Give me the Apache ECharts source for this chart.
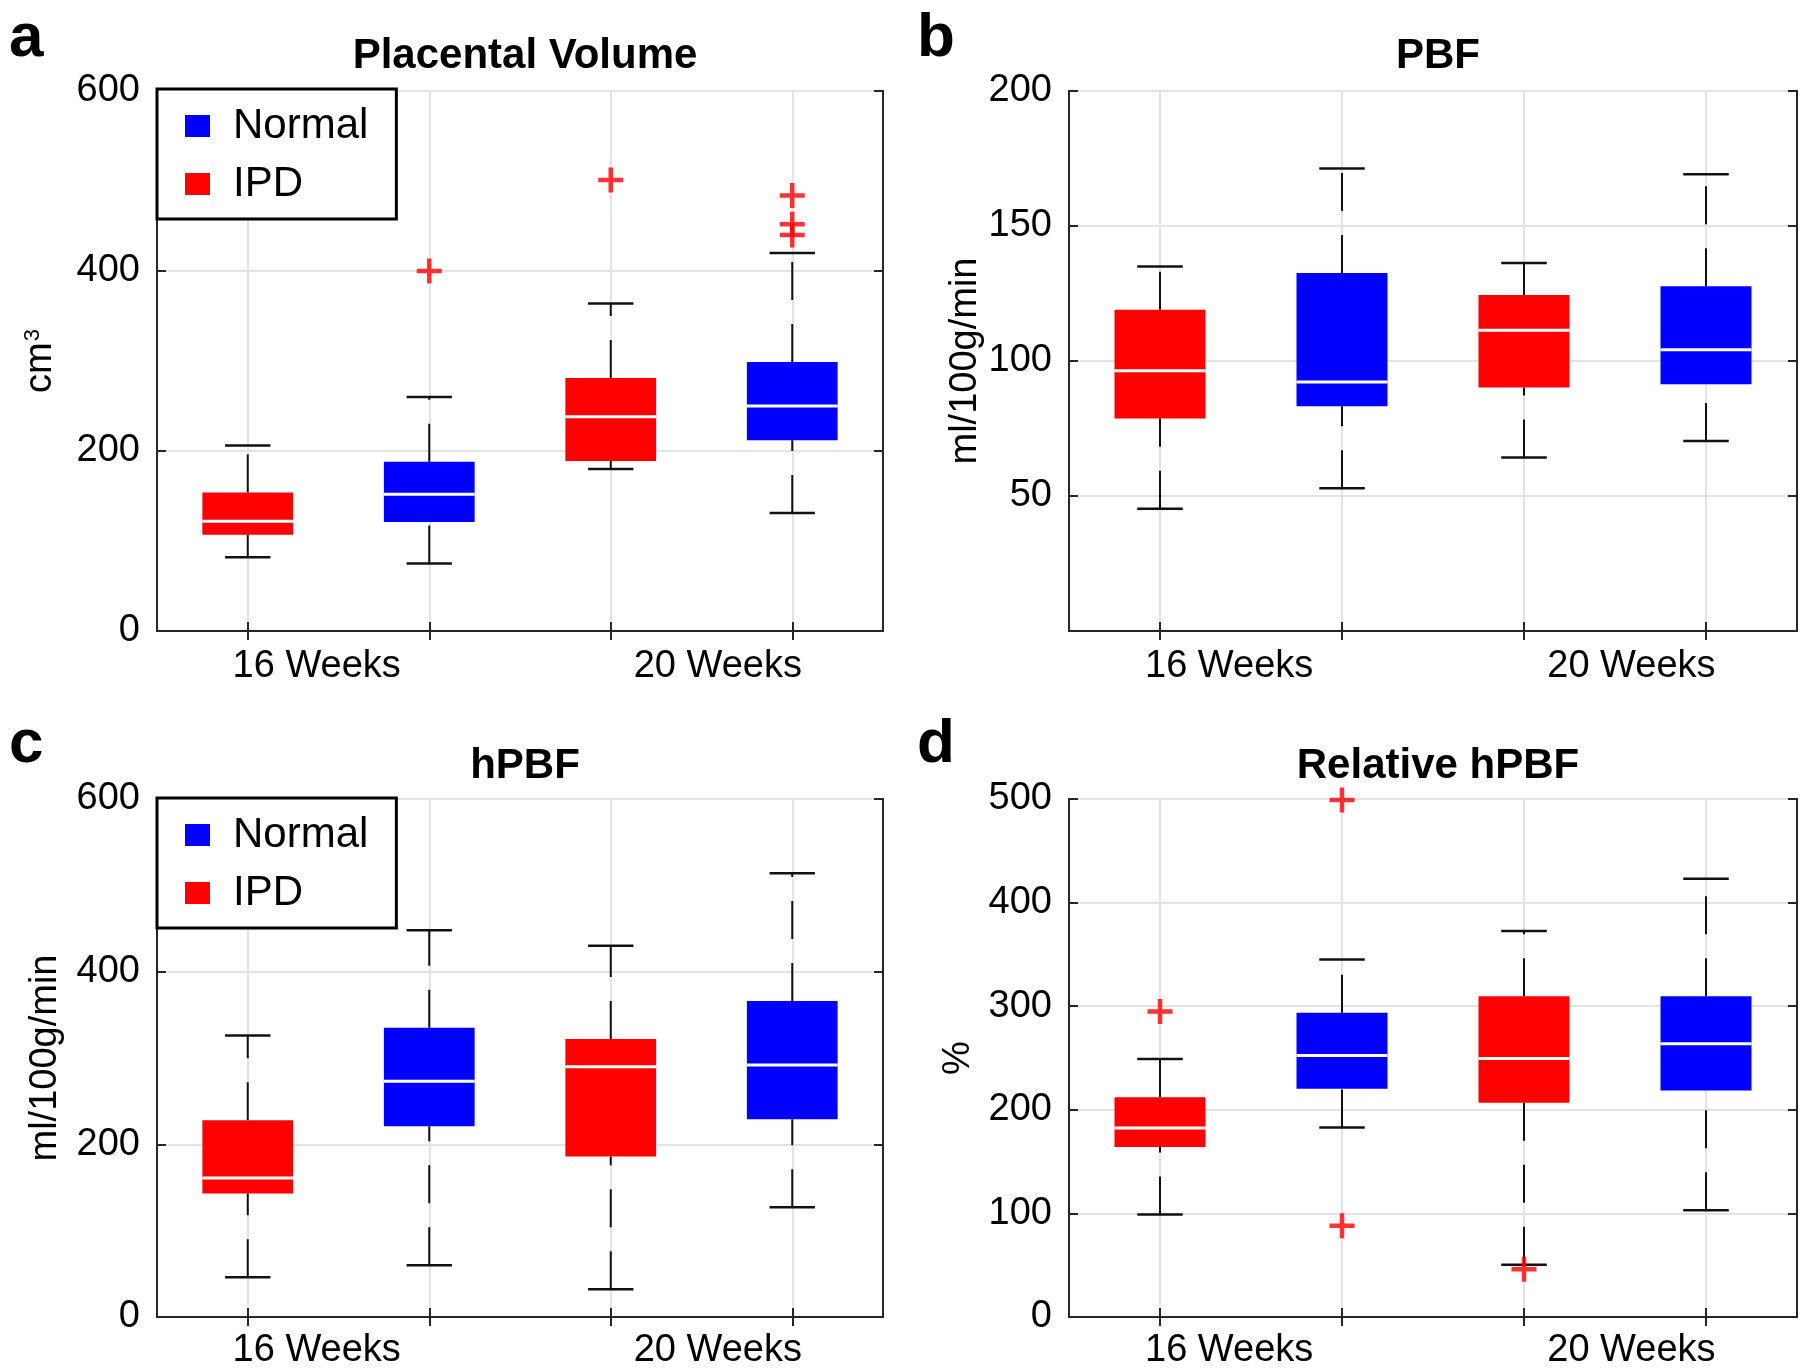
<!DOCTYPE html>
<html>
<head>
<meta charset="utf-8">
<script src="https://cdn.jsdelivr.net/npm/echarts@6/dist/echarts.min.js"></script>
<style>
  html, body { margin: 0; padding: 0; background: #fff; }
  #chart { width: 1800px; height: 1370px; }
</style>
</head>
<body>
<div id="chart"></div>
<script>
// ---------------- DATA ----------------
// box order on every panel: 16 Weeks IPD, 16 Weeks Normal, 20 Weeks IPD, 20 Weeks Normal
const categories = ['16 Weeks IPD', '16 Weeks Normal', '20 Weeks IPD', '20 Weeks Normal'];
const weekLabels = ['16 Weeks', '20 Weeks'];
const panelLetters = ['a', 'b', 'c', 'd'];
const panelTitles = ['Placental Volume', 'PBF', 'hPBF', 'Relative hPBF'];
const yNames = ['{n|cm}{s|3}', 'ml/100g/min', 'ml/100g/min', '%'];

// [category index, lower whisker, Q1, median, Q3, upper whisker]
const volumeIPD    = [[0, 82, 107, 122, 154, 206], [2, 180, 189, 238, 281, 364]];
const volumeNormal = [[1, 75, 121, 152, 188, 260], [3, 131, 212, 250, 299, 420]];
const volumeOutliers = [[1, 400], [2, 501], [3, 484], [3, 452], [3, 440]];

const pbfIPD    = [[0, 45.3, 78.7, 96.4, 119, 135], [2, 64.3, 90.2, 111.4, 124.4, 136.3]];
const pbfNormal = [[1, 52.9, 83.2, 92.2, 132.6, 171.3], [3, 70.4, 91.4, 104.2, 127.7, 169.2]];
const pbfOutliers = [];

const hpbfIPD    = [[0, 46, 143, 161, 228, 326], [2, 32, 186, 290, 322, 430]];
const hpbfNormal = [[1, 60, 221, 273, 335, 448], [3, 127, 229, 292, 366, 514]];
const hpbfOutliers = [];

const relIPD    = [[0, 99, 164, 182.5, 212, 249], [2, 50.4, 206.7, 249.6, 309.6, 372.5]];
const relNormal = [[1, 183, 220.4, 252.5, 293.75, 345], [3, 103, 218.75, 263.75, 309.6, 423]];
const relOutliers = [[0, 295], [1, 499], [1, 88], [2, 46]];

// y axis ranges / ticks
const yMin = [0, 0, 0, 0];
const yMax = [600, 200, 600, 500];
const yStep = [200, 50, 200, 100];

// ---------------- LAYOUT ----------------
const FONT = 'Liberation Sans, Arial, Helvetica, sans-serif';
const grids = [
  { left: 157, top: 91, width: 726, height: 540 },
  { left: 1069, top: 91, width: 728, height: 540 },
  { left: 157, top: 799, width: 726, height: 521 },
  { left: 1069, top: 799, width: 728, height: 521 }
];
const nameGaps = [97, 84, 92, 91];
const xLabelMargin = [17, 17, 15, 15];
const boxData = [
  [volumeIPD, volumeNormal, volumeOutliers],
  [pbfIPD, pbfNormal, pbfOutliers],
  [hpbfIPD, hpbfNormal, hpbfOutliers],
  [relIPD, relNormal, relOutliers]
];
const RED = '#ff0000', BLUE = '#0000ff';
const AXIS_COLOR = '#262626';
const GRID_COLOR = '#e3e3e3';

function renderBox(params, api) {
  const x = api.value(0);
  const pLow = api.coord([x, api.value(1)]);
  const pQ1 = api.coord([x, api.value(2)]);
  const pMed = api.coord([x, api.value(3)]);
  const pQ3 = api.coord([x, api.value(4)]);
  const pHigh = api.coord([x, api.value(5)]);
  const band = api.size([1, 0])[0];
  const cx = pMed[0];
  const bw = band * 0.5, cw = band * 0.25;
  const color = api.visual('color');
  const wStyle = { stroke: '#111', lineWidth: 2, lineDash: [38, 24] };
  const cStyle = { stroke: '#111', lineWidth: 2.5 };
  return {
    type: 'group',
    children: [
      { type: 'line', shape: { x1: cx, y1: pQ3[1], x2: cx, y2: pHigh[1] }, style: wStyle },
      { type: 'line', shape: { x1: cx, y1: pLow[1], x2: cx, y2: pQ1[1] }, style: wStyle },
      { type: 'line', shape: { x1: cx - cw / 2, y1: pHigh[1], x2: cx + cw / 2, y2: pHigh[1] }, style: cStyle },
      { type: 'line', shape: { x1: cx - cw / 2, y1: pLow[1], x2: cx + cw / 2, y2: pLow[1] }, style: cStyle },
      { type: 'rect', shape: { x: cx - bw / 2, y: pQ3[1], width: bw, height: pQ1[1] - pQ3[1] }, style: { fill: color } },
      { type: 'line', shape: { x1: cx - bw / 2, y1: pMed[1], x2: cx + bw / 2, y2: pMed[1] }, style: { stroke: '#fff', lineWidth: 3 } }
    ]
  };
}

const xAxes = [], yAxes = [], series = [], titles = [];
grids.forEach((g, i) => {
  // main bottom category axis (gridlines, ticks)
  xAxes.push({
    type: 'category', gridIndex: i, data: categories, position: 'bottom',
    axisLine: { show: true, lineStyle: { color: AXIS_COLOR, width: 2 } },
    axisTick: { show: true, inside: true, length: 9, alignWithLabel: true, lineStyle: { color: AXIS_COLOR, width: 2 } },
    axisLabel: { show: false },
    splitLine: { show: true, alignWithLabel: true, lineStyle: { color: GRID_COLOR, width: 2 } }
  });
  // top category axis (ticks only)
  xAxes.push({
    type: 'category', gridIndex: i, data: categories, position: 'top',
    axisLine: { show: true, lineStyle: { color: AXIS_COLOR, width: 2 } },
    axisTick: { show: true, inside: true, length: 9, alignWithLabel: true, lineStyle: { color: AXIS_COLOR, width: 2 } },
    axisLabel: { show: false }, splitLine: { show: false }
  });
  // label axis for the week labels
  xAxes.push({
    type: 'value', gridIndex: i, position: 'bottom', min: 0, max: 4,
    axisLine: { show: false }, axisTick: { show: false }, splitLine: { show: false },
    axisLabel: {
      customValues: [0.88, 3.09],
      formatter: v => (v < 2 ? weekLabels[0] : weekLabels[1]),
      margin: xLabelMargin[i], fontSize: 38, color: '#000', fontFamily: FONT
    }
  });
  yAxes.push({
    type: 'value', gridIndex: i, position: 'left',
    min: yMin[i], max: yMax[i], interval: yStep[i],
    name: yNames[i], nameLocation: 'middle', nameRotate: 90, nameGap: nameGaps[i],
    nameTextStyle: {
      fontSize: 38, color: '#000', fontFamily: FONT,
      rich: {
        n: { fontSize: 38, color: '#000', fontFamily: FONT },
        s: { fontSize: 22, color: '#000', fontFamily: FONT, verticalAlign: 'top', padding: [0, 0, 12, 1] }
      }
    },
    axisLine: { show: true, lineStyle: { color: AXIS_COLOR, width: 2 } },
    axisTick: { show: true, inside: true, length: 9, lineStyle: { color: AXIS_COLOR, width: 2 } },
    axisLabel: {
      fontSize: 38, color: '#000', fontFamily: FONT, margin: 17,
      formatter: v => (i === 1 && v === 0 ? '' : String(v))
    },
    splitLine: { show: true, lineStyle: { color: GRID_COLOR, width: 2 } }
  });
  yAxes.push({
    type: 'value', gridIndex: i, position: 'right',
    min: yMin[i], max: yMax[i], interval: yStep[i],
    axisLine: { show: true, lineStyle: { color: AXIS_COLOR, width: 2 } },
    axisTick: { show: true, inside: true, length: 9, lineStyle: { color: AXIS_COLOR, width: 2 } },
    axisLabel: { show: false }, splitLine: { show: false }
  });

  const [ipd, normal, outliers] = boxData[i];
  series.push({
    type: 'custom', name: 'IPD', xAxisIndex: 3 * i, yAxisIndex: 2 * i,
    renderItem: renderBox, itemStyle: { color: RED }, encode: { x: 0, y: [1, 2, 3, 4, 5] },
    data: ipd, z: 3
  });
  series.push({
    type: 'custom', name: 'Normal', xAxisIndex: 3 * i, yAxisIndex: 2 * i,
    renderItem: renderBox, itemStyle: { color: BLUE }, encode: { x: 0, y: [1, 2, 3, 4, 5] },
    data: normal, z: 3
  });
  if (outliers.length) {
    series.push({
      type: 'scatter', name: 'outliers', xAxisIndex: 3 * i, yAxisIndex: 2 * i,
      symbol: 'path://M-1,-0.18H1V0.18H-1Z M-0.18,-1H0.18V1H-0.18Z', symbolSize: 25,
      itemStyle: { color: RED }, clip: false, z: 5,
      data: outliers
    });
  }

  titles.push({
    text: panelTitles[i], left: g.left + g.width / 2, textAlign: 'center',
    top: i < 2 ? 30 : 740,
    textStyle: { fontSize: 42, fontWeight: 'bold', color: '#000', fontFamily: FONT }
  });
  titles.push({
    text: panelLetters[i], left: i % 2 === 0 ? 4 : 912, top: i < 2 ? 3 : 709,
    textStyle: { fontSize: 62, fontWeight: 'bold', color: '#000', fontFamily: FONT }
  });
});

const legendCommon = {
  orient: 'vertical', left: 157, data: ['Normal', 'IPD'],
  icon: 'rect', itemWidth: 25, itemHeight: 22, itemGap: 16,
  backgroundColor: '#fff', borderColor: '#000', borderWidth: 3, borderRadius: 0,
  padding: [16, 28, 14, 28],
  textStyle: { fontSize: 42, color: '#000', fontFamily: FONT, padding: [0, 0, 0, 18] }
};

const option = {
  animation: false,
  backgroundColor: '#fff',
  title: titles,
  grid: grids.map(g => Object.assign({ show: true, borderColor: AXIS_COLOR, borderWidth: 2, backgroundColor: 'transparent' }, g)),
  xAxis: xAxes,
  yAxis: yAxes,
  legend: [
    Object.assign({}, legendCommon, { top: 89 }),
    Object.assign({}, legendCommon, { top: 798 })
  ],
  series: series
};

const chart = echarts.init(document.getElementById('chart'), null, { renderer: 'canvas' });
chart.setOption(option);
</script>
</body>
</html>
